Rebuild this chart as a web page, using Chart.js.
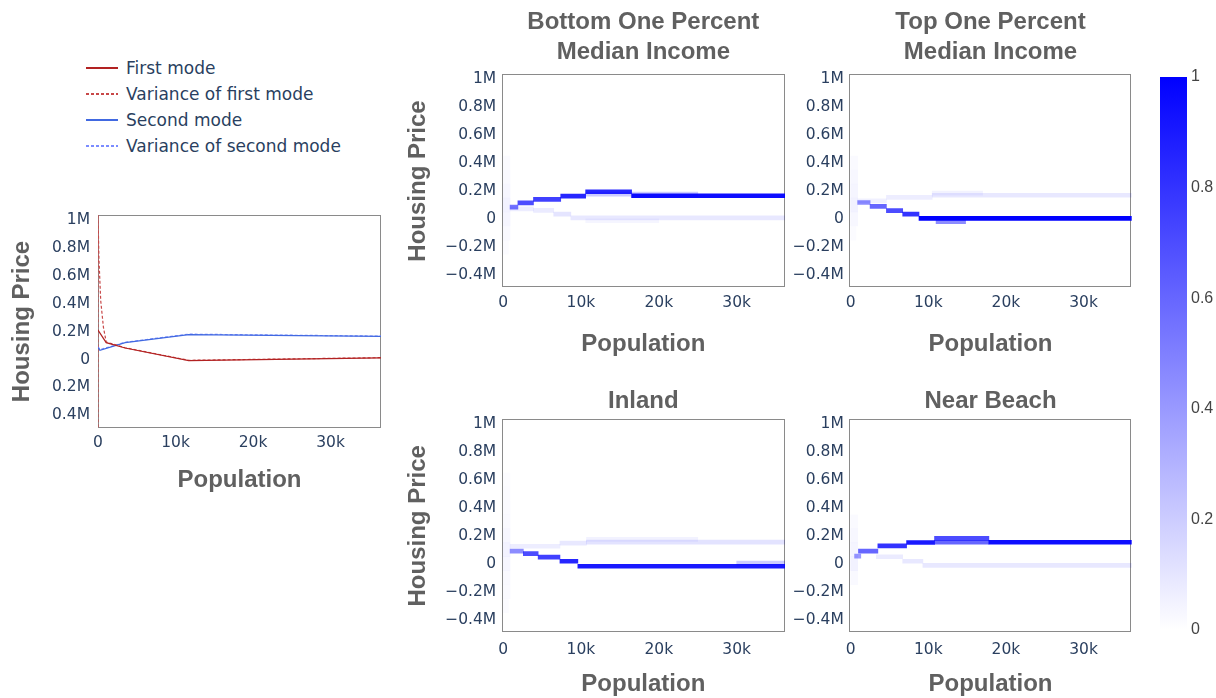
<!DOCTYPE html>
<html>
<head>
<meta charset="utf-8">
<script src="https://cdn.jsdelivr.net/npm/chart.js@4.4.1/dist/chart.umd.min.js"></script>
<style>
  html, body { margin: 0; padding: 0; background: #fff; width: 1216px; height: 698px; overflow: hidden; }
  canvas { position: absolute; }
  #legend { position: absolute; left: 86px; top: 55px; font-family: 'DejaVu Sans'; font-size: 17px; color: #2a3f5f; }
  #legend .item { height: 26px; display: flex; align-items: center; white-space: nowrap; }
  #legend .swatch { width: 32px; height: 1.5px; margin-right: 8px; }
</style>
</head>
<body>
<div id="legend"></div>
<canvas id="modes" width="400" height="310" style="left:0;top:190px"></canvas>
<canvas id="incomeLow" width="400" height="370" style="left:400px;top:0"></canvas>
<canvas id="incomeHigh" width="400" height="370" style="left:750px;top:0"></canvas>
<canvas id="inland" width="400" height="360" style="left:400px;top:360px"></canvas>
<canvas id="beach" width="400" height="360" style="left:750px;top:360px"></canvas>
<canvas id="colorbar" width="76" height="640" style="left:1140px;top:40px"></canvas>
<script>
// ---- axis ticks ----
const popTicks = [0, 10000, 20000, 30000];
const popTickLabels = ['0', '10k', '20k', '30k'];
const priceTicks = [-400000, -200000, 0, 200000, 400000, 600000, 800000, 1000000];
const priceTickLabels = ['\u22120.4M', '\u22120.2M', '0', '0.2M', '0.4M', '0.6M', '0.8M', '1M'];
const modePriceTickLabels = ['0.4M', '0.2M', '0', '0.2M', '0.4M', '0.6M', '0.8M', '1M'];
const densityTicks = [0, 0.2, 0.4, 0.6, 0.8, 1];
const densityTickLabels = ['0', '0.2', '0.4', '0.6', '0.8', '1'];

// ---- mixture modes along population ----
const firstModePop = [0, 1060, 3500, 11700, 36500];
const firstModePrice = [210000, 120000, 82000, -8000, 12000];
const firstVarPop = [0, 0, 120, 350, 700, 1060, 3500, 11700, 36500];
const firstVarPrice = [-520000, 1040000, 720000, 420000, 230000, 125000, 84000, -6000, 13000];
const secondModePop = [0, 250, 3500, 11700, 36500];
const secondModePrice = [85000, 65000, 120000, 178000, 165000];
const secondVarPop = [0, 250, 3500, 11700, 36500];
const secondVarPrice = [92000, 70000, 123000, 181000, 167000];

// ---- density cells: [population from, population to, housing price, density] ----
const incomeLowBands = [
  [10600, 20000, -12000, 0.04],
  [900, 3900, 72000, 0.07],
  [3900, 6500, 62000, 0.08],
  [6500, 8700, 35000, 0.1],
  [8700, 36200, 8000, 0.09],
  [10600, 25000, 178000, 0.2],
  [900, 1900, 85000, 0.55],
  [1900, 3900, 115000, 0.7],
  [3900, 7400, 140000, 0.75],
  [7400, 10600, 163000, 0.85],
  [10600, 16500, 195000, 0.85],
  [16500, 36200, 166000, 0.95]
];
const incomeLowSpread = [
  [0, 900, 400000, 0.015], [0, 900, 300000, 0.025], [0, 900, 200000, 0.035],
  [0, 900, 100000, 0.05], [0, 900, 0, 0.04], [0, 900, -100000, 0.025], [0, 700, -200000, 0.015]
];

const incomeHighBands = [
  [900, 4600, 130000, 0.06],
  [4600, 10500, 155000, 0.07],
  [10500, 36200, 170000, 0.09],
  [10500, 17000, 185000, 0.05],
  [900, 2500, 118000, 0.45],
  [2500, 4600, 90000, 0.6],
  [4600, 6700, 60000, 0.7],
  [6700, 8800, 35000, 0.8],
  [11000, 14800, -18000, 0.45],
  [8800, 36200, 5000, 1.0]
];
const incomeHighSpread = [
  [0, 900, 400000, 0.02], [0, 900, 300000, 0.03], [0, 900, 200000, 0.04],
  [0, 900, 100000, 0.05], [0, 900, 0, 0.03], [0, 700, -100000, 0.015]
];

const inlandBands = [
  [900, 7300, 125000, 0.07],
  [7300, 10700, 148000, 0.09],
  [10700, 36200, 155000, 0.11],
  [10700, 25000, 175000, 0.05],
  [30000, 36200, 5000, 0.2],
  [900, 2600, 90000, 0.45],
  [2600, 4500, 72000, 0.7],
  [4500, 7300, 48000, 0.75],
  [7300, 9600, 18000, 0.85],
  [9600, 36200, -18000, 0.9]
];
const inlandSpread = [
  [0, 900, 600000, 0.01], [0, 900, 500000, 0.015], [0, 900, 400000, 0.02],
  [0, 900, 300000, 0.025], [0, 900, 200000, 0.035], [0, 900, 100000, 0.05],
  [0, 900, 0, 0.035], [0, 900, -100000, 0.025], [0, 900, -200000, 0.02], [0, 700, -300000, 0.015]
];

const beachBands = [
  [3300, 6700, 50000, 0.08],
  [6700, 9300, 18000, 0.09],
  [9300, 36200, -12000, 0.09],
  [500, 1300, 55000, 0.4],
  [1000, 3500, 90000, 0.6],
  [3500, 7200, 128000, 0.8],
  [7200, 10800, 152000, 0.9],
  [10800, 17800, 182000, 0.7],
  [17800, 36200, 154000, 0.95],
  [10800, 17800, 154000, 0.6]
];
const beachSpread = [
  [0, 900, 300000, 0.02], [0, 900, 200000, 0.03], [0, 900, 100000, 0.04],
  [0, 900, 0, 0.05], [0, 900, -100000, 0.025]
];

// ---- colour scale ----
const colorStops = [[0, 'rgb(255,255,255)'], [1, 'rgb(0,0,255)']];

// axis ranges
const popMin = -180, popMax = 36200;
const priceMin = -490000, priceMax = 1033000;

Chart.defaults.font.family = 'DejaVu Sans';

const TICK_COLOR = '#2a3f5f';
const TITLE_COLOR = '#606060';
const tickFont = { family: 'DejaVu Sans', size: 15.5 };
const titleFont = { family: 'Liberation Sans', weight: 'bold', size: 24, lineHeight: 1.2 };

// gray frame around each plotting area
const frameBox = {
  id: 'frameBox',
  beforeDatasetsDraw(chart) {
    const { ctx, chartArea: a } = chart;
    ctx.save();
    ctx.strokeStyle = '#8a8a8a';
    ctx.lineWidth = 1;
    ctx.strokeRect(Math.round(a.left) + 0.5, Math.round(a.top) + 0.5,
                   Math.round(a.right - a.left) - 1, Math.round(a.bottom - a.top) - 1);
    ctx.restore();
  }
};

function xAxis(min, max, height, tickPad, titlePad) {
  return {
    type: 'linear', min, max, stacked: false,
    grid: { display: false, drawTicks: false }, border: { display: false },
    afterBuildTicks: s => { s.ticks = popTicks.map(v => ({ value: v })); },
    ticks: { autoSkip: false, maxRotation: 0, padding: tickPad, color: TICK_COLOR, font: tickFont,
             callback: (v, i) => popTickLabels[i] },
    title: { display: true, text: 'Population', color: TITLE_COLOR, font: titleFont,
             padding: { top: 0, bottom: titlePad } },
    afterFit: s => { s.height = height; }
  };
}

function yAxis(labels, width, tickPad, showTitle, titlePad) {
  return {
    type: 'linear', min: priceMin, max: priceMax, offset: false,
    grid: { display: false, drawTicks: false }, border: { display: false },
    afterBuildTicks: s => { s.ticks = priceTicks.map(v => ({ value: v })); },
    ticks: { autoSkip: false, padding: tickPad, color: TICK_COLOR, font: tickFont,
             callback: (v, i) => labels[i] },
    title: { display: showTitle, text: 'Housing Price', color: TITLE_COLOR, font: titleFont,
             padding: { top: titlePad, bottom: 0 } },
    afterFit: s => { s.width = width; }
  };
}

// ---- line chart of the two modes ----
const pts = (xs, ys) => xs.map((x, i) => ({ x, y: ys[i] }));
const modesChart = new Chart(document.getElementById('modes'), {
  type: 'line',
  data: {
    datasets: [
      { label: 'First mode', data: pts(firstModePop, firstModePrice),
        borderColor: '#b22222', borderWidth: 1.2, pointRadius: 0 },
      { label: 'Variance of first mode', data: pts(firstVarPop, firstVarPrice),
        borderColor: '#c84848', borderDash: [3, 2], borderWidth: 1.2, pointRadius: 0 },
      { label: 'Second mode', data: pts(secondModePop, secondModePrice),
        borderColor: '#4169e1', borderWidth: 1.2, pointRadius: 0 },
      { label: 'Variance of second mode', data: pts(secondVarPop, secondVarPrice),
        borderColor: '#7b8cff', borderDash: [3, 2], borderWidth: 1.2, pointRadius: 0 }
    ]
  },
  options: {
    responsive: false, animation: false, devicePixelRatio: 1,
    layout: { padding: { left: 0, top: 25, right: 19, bottom: 0 } },
    plugins: { legend: { display: false }, tooltip: { enabled: false } },
    scales: {
      x: xAxis(0, 36500, 72, 5.7, 5.1),
      y: yAxis(modePriceTickLabels, 98, 8, true, 8.1)
    }
  },
  plugins: [frameBox]
});

// legend built from the line chart's datasets
const legendEl = document.getElementById('legend');
modesChart.data.datasets.forEach(ds => {
  const row = document.createElement('div');
  row.className = 'item';
  const sw = document.createElement('span');
  sw.className = 'swatch';
  sw.style.background = ds.borderDash
    ? `repeating-linear-gradient(to right, ${ds.borderColor} 0 3px, transparent 3px 5px)`
    : ds.borderColor;
  const txt = document.createElement('span');
  txt.textContent = ds.label;
  row.appendChild(sw);
  row.appendChild(txt);
  legendEl.appendChild(row);
});

// ---- density heatmaps drawn as horizontal floating bars ----
const shade = ctx => (ctx.raw ? `rgba(0,0,255,${ctx.raw.v})` : 'transparent');
const toCells = rows => rows.map(r => ({ x: [r[0], r[1]], y: r[2], v: r[3] }));

function heatmap(id, title, bands, spread, L) {
  return new Chart(document.getElementById(id), {
    type: 'bar',
    data: {
      datasets: [
        { data: toCells(bands), barThickness: 4, stack: 'd', backgroundColor: shade, borderWidth: 0 },
        { data: toCells(spread), barThickness: 14, stack: 'd', backgroundColor: shade, borderWidth: 0 }
      ]
    },
    options: {
      indexAxis: 'y', responsive: false, animation: false, devicePixelRatio: 1,
      layout: { padding: { left: 0, top: 0, right: L.padRight, bottom: 0 } },
      plugins: {
        legend: { display: false }, tooltip: { enabled: false },
        title: { display: true, text: title, fullSize: false, color: TITLE_COLOR,
                 font: { family: 'Liberation Sans', weight: 'bold', size: 24, lineHeight: 1.25 },
                 padding: { top: L.titleTop, bottom: L.titleBottom } }
      },
      scales: {
        x: xAxis(popMin, popMax, L.xHeight, L.xTickPad, L.xTitlePad),
        y: yAxis(priceTickLabels, L.yWidth, 5.5, L.yTitle, 3.6)
      }
    },
    plugins: [frameBox]
  });
}

heatmap('incomeLow', ['Bottom One Percent', 'Median Income'], incomeLowBands, incomeLowSpread,
  { padRight: 15, yWidth: 101.7, yTitle: true, xHeight: 82.3, xTickPad: 6.3, xTitlePad: 11.6, titleTop: 7.5, titleBottom: 6.8 });
heatmap('incomeHigh', ['Top One Percent', 'Median Income'], incomeHighBands, incomeHighSpread,
  { padRight: 18.3, yWidth: 99.3, yTitle: false, xHeight: 82.3, xTickPad: 6.3, xTitlePad: 11.6, titleTop: 7.5, titleBottom: 6.8 });
heatmap('inland', 'Inland', inlandBands, inlandSpread,
  { padRight: 15, yWidth: 101.7, yTitle: true, xHeight: 87.7, xTickPad: 8.4, xTitlePad: 21.6, titleTop: 26, titleBottom: 3.3 });
heatmap('beach', 'Near Beach', beachBands, beachSpread,
  { padRight: 18.3, yWidth: 99.3, yTitle: false, xHeight: 87.7, xTickPad: 8.4, xTitlePad: 21.6, titleTop: 26, titleBottom: 3.3 });

// ---- colour bar ----
new Chart(document.getElementById('colorbar'), {
  type: 'bar',
  data: {
    labels: [''],
    datasets: [{
      data: [1], barPercentage: 1, categoryPercentage: 1, borderWidth: 0,
      backgroundColor: ctx => {
        const a = ctx.chart.chartArea;
        if (!a) return colorStops[colorStops.length - 1][1];
        const g = ctx.chart.ctx.createLinearGradient(0, a.bottom, 0, a.top);
        colorStops.forEach(([p, c]) => g.addColorStop(p, c));
        return g;
      }
    }]
  },
  options: {
    responsive: false, animation: false, devicePixelRatio: 1,
    layout: { padding: { left: 20, top: 37, right: 0, bottom: 50 } },
    plugins: { legend: { display: false }, tooltip: { enabled: false } },
    scales: {
      x: { display: false },
      y: {
        position: 'right', min: 0, max: 1,
        grid: { display: false, drawTicks: false }, border: { display: false },
        afterBuildTicks: s => { s.ticks = densityTicks.map(v => ({ value: v })); },
        ticks: { autoSkip: false, padding: 4, color: '#444', font: { family: 'Liberation Sans', size: 16 },
                 callback: (v, i) => densityTickLabels[i] },
        afterFit: s => { s.width = 29; }
      }
    }
  }
});
</script>
</body>
</html>
